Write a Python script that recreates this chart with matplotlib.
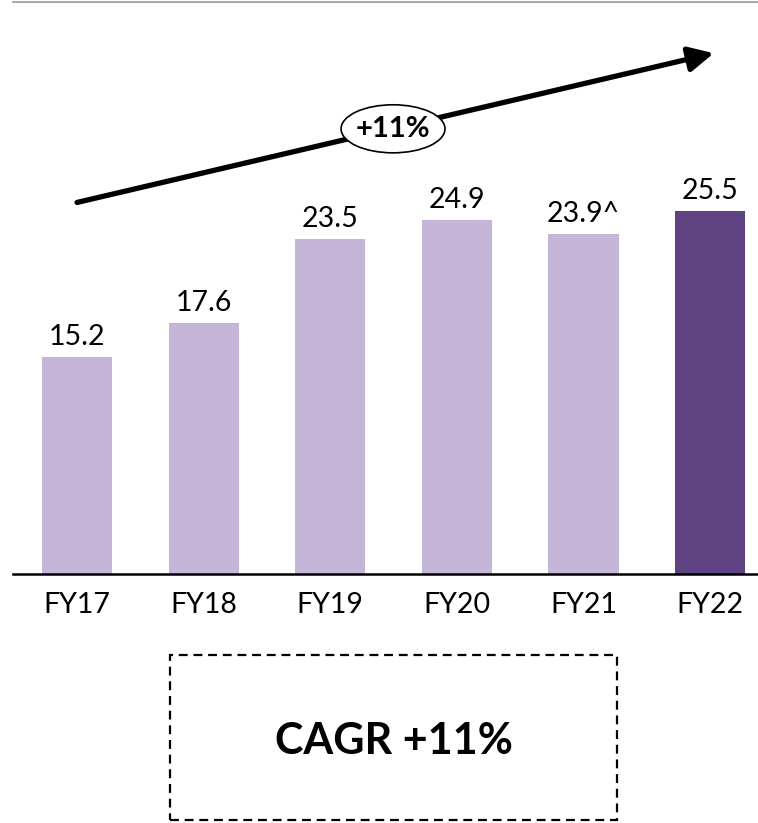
import matplotlib
matplotlib.use("Agg")
import matplotlib.pyplot as plt
from matplotlib.patches import Ellipse, Rectangle

categories = ["FY17", "FY18", "FY19", "FY20", "FY21", "FY22"]
values = [15.2, 17.6, 23.5, 24.9, 23.9, 25.5]
value_labels = ["15.2", "17.6", "23.5", "24.9", "23.9^", "25.5"]
bar_colors = ["#c5b5d9", "#c5b5d9", "#c5b5d9", "#c5b5d9", "#c5b5d9", "#5f4282"]
growth_label = "+11%"
cagr_label = "CAGR +11%"
arrow_start = (0, 26.1)
arrow_end = (5.03, 36.6)

plt.rcParams['font.family'] = ['Lato', 'DejaVu Sans']

W, H = 758, 823
fig = plt.figure(figsize=(W / 100, H / 100), dpi=100)
ax = fig.add_axes([13 / W, (H - 573.5) / H, 1 - 13 / W, (573.5 - 2) / H])

x = list(range(len(categories)))
ax.bar(x, values, width=0.555, color=bar_colors, zorder=2)
ax.set_xlim(-0.506, 5.379)
ax.set_ylim(0, 40.2)

for xi, v, lab in zip(x, values, value_labels):
    ax.annotate(lab, (xi, v), xytext=(0, 8.6), textcoords="offset points",
                ha="center", va="baseline", fontsize=20.5, color="#000000")

ax.set_xticks(x)
ax.set_xticklabels(categories, fontsize=20.5)
ax.tick_params(axis="x", length=0, pad=13)
ax.set_yticks([])
for s in ["left", "right"]:
    ax.spines[s].set_visible(False)
ax.spines["bottom"].set_color("#000000")
ax.spines["bottom"].set_linewidth(1.8)
ax.spines["top"].set_color("#a0a0a0")
ax.spines["top"].set_linewidth(1.3)

ax.annotate("", xy=arrow_end, xytext=arrow_start,
            arrowprops=dict(arrowstyle="-|>,head_length=1.5,head_width=0.75",
                            lw=3.8, color="#000000", shrinkA=0, shrinkB=0,
                            mutation_scale=10),
            zorder=3, annotation_clip=False)

ell = Ellipse((2.496, 31.28), width=0.821, height=3.38, facecolor="white",
              edgecolor="#000000", lw=1.2, zorder=4)
ax.add_patch(ell)
ax.text(2.496, 31.28, growth_label, ha="center", va="center", fontsize=21,
        fontweight="bold", zorder=5)

rect = Rectangle((170 / W, (H - 820) / H), 447 / W, 165 / H, transform=fig.transFigure,
                 fill=False, edgecolor="#000000", lw=1.6, linestyle=(0, (4, 2.6)))
fig.patches.append(rect)
fig.text(393.5 / W, (H - 741) / H, cagr_label, ha="center", va="center",
         fontsize=31, fontweight="bold")

fig.savefig("out.png", dpi=100, facecolor="white")
